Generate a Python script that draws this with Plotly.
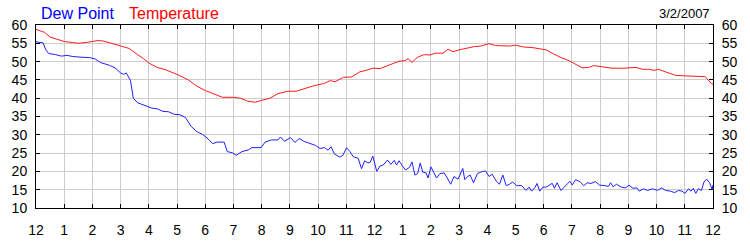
import plotly.graph_objects as go

# ---- data (hours since midnight, degrees F) ----
temp_hours = [0, 0.3, 0.5, 0.8, 1.0, 1.3, 1.5, 1.8, 2.0, 2.2, 2.4, 2.7, 3.0, 3.3, 3.6, 3.8, 4.0, 4.3, 4.6, 5.0,
              5.4, 5.7, 6.0, 6.26, 6.61, 7.0, 7.25, 7.5, 7.77, 8.0, 8.29, 8.58, 8.93, 9.22, 9.5, 9.85, 10.2, 10.43,
              10.6, 10.9, 11.19, 11.48, 11.7, 11.94, 12.2, 12.41, 12.64, 12.87, 13.08, 13.19, 13.33, 13.51, 13.74,
              13.97, 14.15, 14.43, 14.61, 14.78, 15.0, 15.3, 15.54, 15.77, 16.06, 16.29, 16.58, 16.81, 16.99, 17.28,
              17.62, 17.91, 18.09, 18.32, 18.61, 18.9, 19.13, 19.36, 19.59, 19.77, 20.06, 20.41, 20.81, 21.1, 21.27,
              21.5, 21.74, 21.91, 22.06, 22.32, 22.67, 23.01, 23.36, 23.71, 23.83, 23.94, 24.0]
temp_values = [58.8, 58.0, 56.7, 56.1, 55.5, 55.2, 55.0, 55.25, 55.5, 55.75, 55.6, 55.0, 54.4, 53.6, 51.9, 50.9,
               49.6, 48.4, 47.75, 46.5, 45.0, 43.3, 42.1, 41.25, 40.25, 40.25, 40.0, 39.2, 38.9, 39.4, 40.0, 41.25,
               41.9, 41.9, 42.6, 43.4, 44.0, 44.8, 44.5, 45.7, 45.8, 47.2, 47.6, 48.2, 48.1, 48.75, 49.25, 50.1,
               50.25, 50.8, 49.8, 51.1, 51.9, 51.8, 52.3, 52.3, 53.4, 52.7, 53.2, 53.8, 54.1, 54.25, 54.9, 54.4,
               54.3, 54.25, 54.5, 54.0, 53.8, 53.3, 53.2, 52.2, 51.1, 50.25, 49.2, 48.3, 48.4, 48.9, 48.6, 48.2,
               48.2, 48.2, 48.4, 47.9, 47.9, 47.6, 47.9, 47.2, 46.25, 46.1, 45.9, 45.9, 45.0, 44.0, 43.8]

dew_hours = [0, 0.25, 0.35, 0.45, 0.7, 0.9, 1.1, 1.3, 1.6, 1.9, 2.1, 2.3, 2.6, 2.8, 3.0, 3.1, 3.2, 3.3, 3.35, 3.45,
             3.6, 3.9, 4.1, 4.3, 4.5, 4.7, 4.9, 5.1, 5.3, 5.5, 5.7, 5.9, 6.03, 6.26, 6.43, 6.67, 6.78, 6.96, 7.1,
             7.3, 7.54, 7.65, 7.98, 8.12, 8.35, 8.58, 8.67, 8.81, 9.02, 9.18, 9.33, 9.5, 9.72, 9.91, 10.07, 10.23,
             10.35, 10.46, 10.58, 10.77, 10.88, 11.01, 11.13, 11.25, 11.42, 11.54, 11.65, 11.77, 11.85, 11.94,
             12.08, 12.2, 12.31, 12.46, 12.58, 12.7, 12.78, 12.87, 12.99, 13.1, 13.24, 13.33, 13.43, 13.53, 13.62,
             13.71, 13.83, 13.9, 14.0, 14.09, 14.2, 14.32, 14.47, 14.58, 14.7, 14.82, 14.96, 15.13, 15.2, 15.3,
             15.39, 15.51, 15.65, 15.83, 15.94, 16.06, 16.17, 16.32, 16.43, 16.55, 16.67, 16.79, 16.9, 17.04,
             17.22, 17.37, 17.48, 17.57, 17.68, 17.76, 17.86, 17.97, 18.09, 18.2, 18.3, 18.38, 18.47, 18.61,
             18.78, 18.93, 19.01, 19.13, 19.28, 19.42, 19.54, 19.67, 19.83, 19.98, 20.17, 20.29, 20.37, 20.46,
             20.58, 20.75, 20.9, 21.02, 21.16, 21.3, 21.39, 21.53, 21.68, 21.86, 22.03, 22.18, 22.32, 22.49,
             22.64, 22.78, 22.9, 23.01, 23.13, 23.22, 23.3, 23.39, 23.48, 23.59, 23.68, 23.77, 23.88, 23.97, 24.0]
dew_values = [55.4, 55.1, 53.2, 52.2, 51.9, 51.5, 51.7, 51.4, 51.2, 51.1, 50.7, 49.7, 49.0, 48.3, 46.9, 46.5, 46.9,
              45.25, 44.8, 40.0, 38.75, 37.9, 37.3, 37.1, 36.4, 36.3, 35.6, 35.5, 34.7, 32.3, 30.9, 30.1, 29.4,
              27.6, 28.0, 28.0, 25.4, 25.1, 24.4, 25.4, 25.9, 26.5, 26.5, 28.0, 28.6, 28.6, 29.4, 28.2, 29.25,
              27.9, 29.0, 28.2, 27.5, 27.1, 26.25, 26.5, 25.8, 26.75, 24.75, 23.9, 24.4, 26.5, 25.4, 24.0, 23.6,
              20.75, 22.9, 22.3, 22.5, 24.2, 20.0, 21.5, 21.75, 23.1, 21.9, 23.0, 21.75, 22.9, 21.5, 20.4, 21.1,
              22.6, 19.0, 19.4, 22.3, 19.8, 19.6, 18.2, 21.25, 19.7, 18.2, 19.4, 19.6, 18.2, 16.5, 18.6, 17.9,
              20.8, 17.75, 18.6, 19.0, 16.9, 19.4, 20.0, 20.1, 18.6, 19.25, 17.3, 16.5, 19.0, 16.1, 16.5, 17.1,
              16.1, 16.1, 14.8, 15.7, 14.6, 15.5, 16.7, 14.6, 15.7, 15.7, 16.25, 16.75, 15.4, 16.9, 14.8, 16.1,
              17.3, 16.3, 17.75, 17.2, 16.1, 16.9, 16.7, 17.2, 16.25, 16.1, 15.9, 16.9, 15.8, 16.5, 15.7, 15.5,
              16.25, 15.4, 15.5, 14.6, 15.25, 14.8, 15.25, 14.8, 15.5, 14.8, 14.6, 14.2, 14.8, 14.6, 14.0, 15.25,
              14.6, 15.4, 14.0, 15.25, 14.8, 17.1, 17.9, 16.9, 15.1, 16.3]

assert len(temp_hours) == len(temp_values)
assert len(dew_hours) == len(dew_values)

x_tick_vals = list(range(0, 25))
x_tick_text = ["12"] + [str(i) for i in range(1, 12)] + ["12"] + [str(i) for i in range(1, 12)] + ["12"]
y_tick_vals = list(range(10, 61, 5))

series_names = ["Dew Point", "Temperature"]
date_label = "3/2/2007"

BLUE = "#2020ff"
RED = "#ff1a1a"
FONT = "Liberation Sans, Arial, sans-serif"

fig = go.Figure()
fig.add_trace(go.Scatter(x=dew_hours, y=dew_values, mode="lines",
                         line=dict(color=BLUE, width=1), name=series_names[0]))
fig.add_trace(go.Scatter(x=temp_hours, y=temp_values, mode="lines",
                         line=dict(color=RED, width=1), name=series_names[1]))
# invisible trace to carry the right-hand axis
fig.add_trace(go.Scatter(x=[0, 24], y=[10, 60], mode="lines", yaxis="y2",
                         line=dict(width=0), hoverinfo="skip", showlegend=False, opacity=0))

axis_common = dict(showline=True, linecolor="black", linewidth=1, gridcolor="#cccccc", gridwidth=1,
                   ticks="inside", ticklen=4, tickcolor="black", zeroline=False,
                   tickfont=dict(family=FONT, size=14, color="#000000"))

fig.update_layout(
    width=750, height=250,
    margin=dict(l=30, r=30, t=25, b=25),
    paper_bgcolor="white", plot_bgcolor="white",
    showlegend=False,
    xaxis=dict(range=[0, 24], tickvals=x_tick_vals, ticktext=x_tick_text, mirror="ticks",
               ticklabelstandoff=9, **axis_common),
    yaxis=dict(range=[10, 60], tickvals=y_tick_vals, ticklabelstandoff=5, **axis_common),
    yaxis2=dict(range=[10, 60], tickvals=y_tick_vals, overlaying="y", side="right",
                showgrid=False, ticklabelstandoff=5,
                **{k: v for k, v in axis_common.items() if k not in ("gridcolor", "gridwidth")}),
    annotations=[
        dict(text=series_names[0], xref="paper", yref="paper", x=(33 - 30) / 690, y=1 + (25 - 12) / 200,
             xanchor="left", yanchor="middle", showarrow=False, font=dict(family=FONT, size=16, color="#0000ff")),
        dict(text=series_names[1], xref="paper", yref="paper", x=(123 - 30) / 690, y=1 + (25 - 12) / 200,
             xanchor="left", yanchor="middle", showarrow=False, font=dict(family=FONT, size=16, color="#ff0000")),
        dict(text=date_label, xref="paper", yref="paper", x=(719 - 30) / 690, y=1 + (25 - 12) / 200,
             xanchor="right", yanchor="middle", showarrow=False, font=dict(family=FONT, size=13, color="#000000")),
    ],
)

fig.write_html("out.html")
